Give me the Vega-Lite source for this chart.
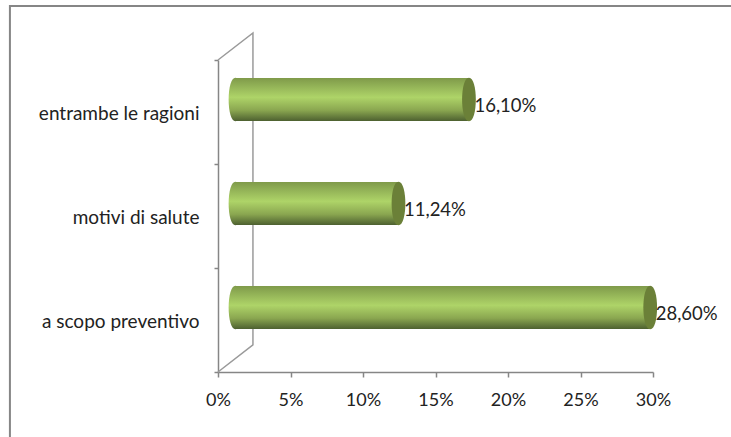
{"$schema":"https://vega.github.io/schema/vega-lite/v6.json","width":435,"height":312,"autosize":"none","padding":{"left":218,"top":60,"right":78,"bottom":65},"background":"white","config":{"view":{"stroke":null}},
"layer":[
{"data":{"values":[{"x":-14.35,"y":-0.7,"o":1},{"x":-14.35,"y":3.52,"o":2},{"x":36,"y":3.52,"o":3}]},"mark":{"type":"line","stroke":"#868686","strokeWidth":2,"clip":false},"encoding":{"x":{"field":"x","type":"quantitative","scale":{"domain":[0,30]},"axis":{"values":[0,5,10,15,20,25,30],"labelExpr":"datum.value+'%'","labelFlush":false,"grid":false,"title":null,"domainColor":"#868686","domainWidth":1.5,"tickColor":"#868686","tickWidth":1.5,"tickSize":5,"labelFont":"Lato","labelFontSize":18,"labelColor":"#222222","labelPadding":14}},"y":{"field":"y","type":"quantitative","scale":{"domain":[0,3]},"axis":null},"order":{"field":"o"}}},
{"data":{"values":[{"x":0,"y":0,"o":1},{"x":2.41,"y":0.26,"o":2},{"x":2.41,"y":3.26,"o":3},{"x":0,"y":3,"o":4}]},"mark":{"type":"line","stroke":"#9a9a9a","strokeWidth":1.5,"clip":false},"encoding":{"x":{"field":"x","type":"quantitative"},"y":{"field":"y","type":"quantitative","scale":{"domain":[0,3]},"axis":null},"order":{"field":"o"}}},
{"data":{"name":"d","values":[{"ragione":"a scopo preventivo","valore":28.6,"testo":"28,60%"},{"ragione":"motivi di salute","valore":11.24,"testo":"11,24%"},{"ragione":"entrambe le ragioni","valore":16.1,"testo":"16,10%"}]},
"encoding":{"y":{"field":"ragione","type":"nominal","sort":["entrambe le ragioni","motivi di salute","a scopo preventivo"],"title":null,"scale":{"paddingInner":0,"paddingOuter":0},"axis":{"tickBand":"extent","domainColor":"#868686","domainWidth":1.5,"tickColor":"#868686","tickWidth":1.5,"tickSize":4,"labelFont":"Lato","labelFontSize":19,"labelColor":"#222222","labelPadding":15,"labelLimit":200,"labelOffset":1}},"x":{"field":"valore","type":"quantitative"}},
"layer":[
{"mark":{"type":"point","filled":true,"shape":"M0,-1C0.42,-1 0.42,1 0,1C-0.42,1 -0.42,-1 0,-1Z","size":1900,"xOffset":17.5,"yOffset":-12.5,"opacity":1,"fill":{"x1":0,"y1":0,"x2":0,"y2":1,"gradient":"linear","stops":[{"offset":0,"color":"#7f9a4a"},{"offset":0.45,"color":"#aed468"},{"offset":0.75,"color":"#8aa650"},{"offset":1,"color":"#4d6030"}]}},"encoding":{"x":{"datum":0,"type":"quantitative"}}},
{"mark":{"type":"bar","size":43,"xOffset":17.5,"x2Offset":17.5,"yOffset":-12.5,"y2Offset":-12.5,"fill":{"x1":0,"y1":0,"x2":0,"y2":1,"gradient":"linear","stops":[{"offset":0,"color":"#7f9a4a"},{"offset":0.45,"color":"#aed468"},{"offset":0.75,"color":"#8aa650"},{"offset":1,"color":"#4d6030"}]}}},
{"mark":{"type":"point","filled":true,"shape":"M0,-1C0.42,-1 0.42,1 0,1C-0.42,1 -0.42,-1 0,-1Z","size":1900,"xOffset":17.5,"yOffset":-12.5,"opacity":1,"fill":"#6b8038"}},
{"mark":{"type":"text","align":"left","baseline":"middle","xOffset":23,"yOffset":-6,"font":"Lato","fontSize":18.5,"fill":"#222222"},"encoding":{"text":{"field":"testo"}}}
]}
],"resolve":{"scale":{"y":"independent"}}}
